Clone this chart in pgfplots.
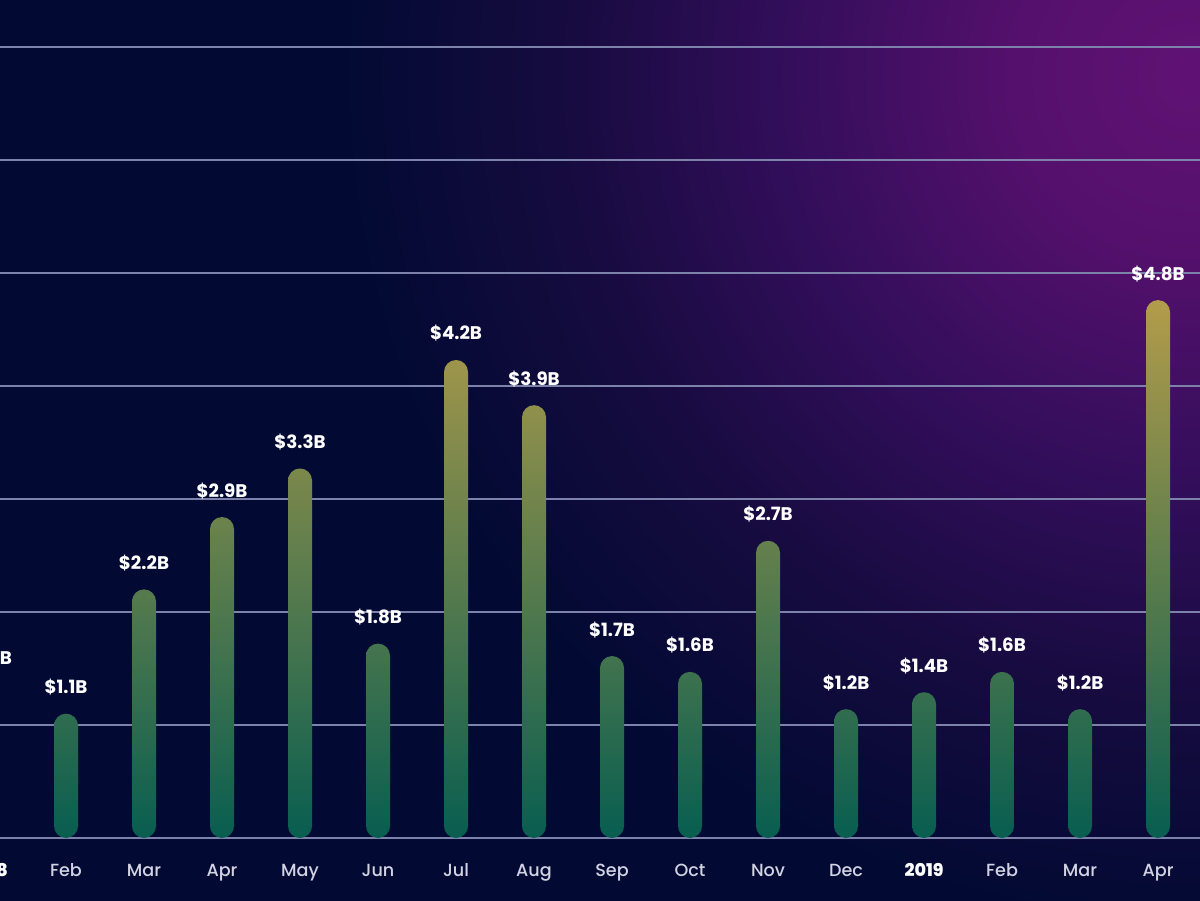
\documentclass[border=0pt]{standalone}
\usepackage{pgfplots}
\pgfplotsset{compat=1.18}
\usepackage{fontspec}
\setmainfont{Poppins}
\newfontfamily\medfont{Poppins Medium}
\definecolor{navy}{RGB}{2,10,51}
\definecolor{g0}{RGB}{96,18,116}
\definecolor{g1}{RGB}{84,16,108}
\definecolor{g2}{RGB}{52,14,92}
\definecolor{g3}{RGB}{22,11,63}
\definecolor{gbot}{RGB}{8,94,80}
\definecolor{ggold}{RGB}{178,156,74}
\definecolor{gridc}{RGB}{125,130,170}
\definecolor{monthc}{RGB}{210,210,226}
\pgfdeclareradialshading{glow}{\pgfpoint{0bp}{0bp}}{color(0bp)=(g0); color(2.5bp)=(g1); color(5.5bp)=(g2); color(8.75bp)=(g3); color(11.75bp)=(navy); color(50bp)=(navy)}
\pgfplotsset{mybar/.style={draw=none, bar shift=0pt, rounded corners=0.24cm, bottom color=gbot, top color=ggold!#1!gbot}}
\begin{document}
\begin{tikzpicture}
\fill[navy] (-1.02,0) rectangle (24,18);
\begin{scope}
\clip (-1.02,0) rectangle (24,18);
\shade[shading=glow] (23.8,16.5) circle (36);
\end{scope}
\begin{axis}[
  scale only axis, width=25.02cm, height=18cm,
  at={(-1.02cm,0)}, anchor=south west,
  xmin=-0.5, xmax=15.538, ymin=-0.549, ymax=7.416,
  ybar, bar width=0.48cm, bar shift=0pt,
  axis line style={draw=none}, tick style={draw=none},
  ytick={0,...,7}, yticklabels={},
  ymajorgrids, grid style={gridc, line width=0.85pt},
  xtick={0,...,15},
  xticklabels={{\bfseries\color{white}2018},Feb,Mar,Apr,May,Jun,Jul,Aug,Sep,Oct,Nov,Dec,{\bfseries\color{white}2019},Feb,Mar,Apr},
  xticklabel style={anchor=base, yshift=0.62cm, text=monthc, font=\medfont\fontsize{10}{12}\selectfont},
  nodes near coords, point meta=explicit symbolic,
  nodes near coords style={anchor=base, yshift=0.4cm, inner sep=0pt, text=white, font=\bfseries\fontsize{10.4}{12}\selectfont},
]
\addplot[mybar=28] coordinates {(0,1.36) [\$1.5B]};
\addplot[mybar=23] coordinates {(1,1.10) [\$1.1B]};
\addplot[mybar=46] coordinates {(2,2.20) [\$2.2B]};
\addplot[mybar=59] coordinates {(3,2.84) [\$2.9B]};
\addplot[mybar=68] coordinates {(4,3.27) [\$3.3B]};
\addplot[mybar=36] coordinates {(5,1.72) [\$1.8B]};
\addplot[mybar=88] coordinates {(6,4.23) [\$4.2B]};
\addplot[mybar=80] coordinates {(7,3.83) [\$3.9B]};
\addplot[mybar=34] coordinates {(8,1.61) [\$1.7B]};
\addplot[mybar=31] coordinates {(9,1.47) [\$1.6B]};
\addplot[mybar=55] coordinates {(10,2.63) [\$2.7B]};
\addplot[mybar=24] coordinates {(11,1.14) [\$1.2B]};
\addplot[mybar=27] coordinates {(12,1.29) [\$1.4B]};
\addplot[mybar=31] coordinates {(13,1.47) [\$1.6B]};
\addplot[mybar=24] coordinates {(14,1.14) [\$1.2B]};
\addplot[mybar=100] coordinates {(15,4.76) [\$4.8B]};
\end{axis}
\pgfresetboundingbox
\path (0,0) rectangle (24,18);
\end{tikzpicture}
\end{document}
